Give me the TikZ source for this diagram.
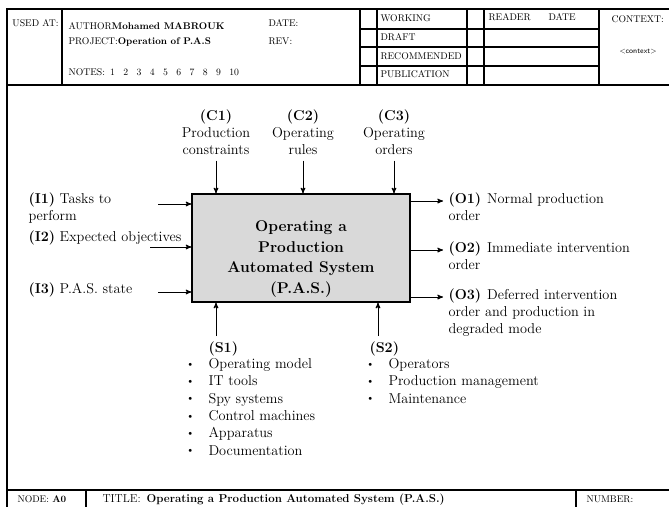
\documentclass[tikz,border=0pt]{standalone}
\usetikzlibrary{arrows}
\newcommand{\hdr}{\fontsize{9.7}{11.5}\selectfont}
\newcommand{\lbl}{\fontsize{14.3}{17.3}\selectfont}
\newcommand{\ttl}{\fontsize{15.6}{20.7}\selectfont\bfseries}
\newcommand{\bul}{\llap{\raisebox{1.3pt}{\fontsize{11}{13}\selectfont\textbullet}\hspace{14pt}}}
\newcommand{\nsp}{\hspace{8.4pt}}

\begin{document}
\begin{tikzpicture}[->,>=stealth',x=1pt,y=-1pt,line width=1pt,
  main node/.style={draw,fill=gray!30,line width=1.4pt,minimum width=218pt,minimum height=108pt,inner sep=0pt},
  hdr node/.style={anchor=west,inner sep=0pt,font=\hdr},
  lbl node/.style={anchor=north west,align=left,inner sep=0pt,font=\lbl,
    execute at begin node=\strut,execute at end node=\strut},
  ctl node/.style={lbl node,anchor=north,align=center},
  grid/.style={-,line width=1.4pt}]
\useasboundingbox (0,0) rectangle (669,506);
\clip (0,0) rectangle (669,506);

% Frame and header grid
  \draw[grid,line width=2pt] (7,9) rectangle (700,540);
  \draw[grid,line width=2pt] (7,85) -- (700,85);
  \draw[grid] (62,9) -- (62,85);
  \draw[grid] (360,9) -- (360,85);
  \draw[grid] (377,9) -- (377,85);
  \draw[grid] (467,9) -- (467,85);
  \draw[grid] (484,9) -- (484,85);
  \draw[grid] (599,9) -- (599,85);
  \draw[grid] (360,29) -- (599,29);
  \draw[grid] (360,47) -- (599,47);
  \draw[grid] (360,66) -- (599,66);

% header texts
  \node (usedat) [hdr node] at (12,23) {USED AT:};
  \node (author) [hdr node] at (68,26) {AUTHOR\textbf{Mohamed MABROUK}};
  \node (project) [hdr node] at (68,42) {PROJECT:\textbf{Operation of P.A.S}};
  \node (notes) [hdr node] at (68,72) {NOTES:\hspace{5pt}1\nsp 2\nsp 3\nsp 4\nsp 5\nsp 6\nsp 7\nsp 8\nsp 9\nsp 10};
  \node (date) [hdr node] at (268,23) {DATE:};
  \node (rev) [hdr node] at (268,41) {REV:};
  \node (working) [hdr node] at (380,18) {WORKING};
  \node (draft) [hdr node] at (380,37) {DRAFT};
  \node (recom) [hdr node] at (380,56) {RECOMMENDED};
  \node (publi) [hdr node] at (380,74) {PUBLICATION};
  \node (reader) [hdr node] at (488,17) {READER};
  \node (rdate) [hdr node] at (548,17) {DATE};
  \node (context) [hdr node] at (611,19) {CONTEXT:};
  \node (ctxval) [font=\sffamily\fontsize{7.5}{9}\selectfont,inner sep=0pt] at (638,52) {\textless context\textgreater};

% Footer
  \draw[grid,line width=2pt] (7,490) -- (700,490);
  \draw[grid] (86,490) -- (86,540);
  \draw[grid] (576,490) -- (576,540);
  \node (nodeid) [hdr node] at (17,499) {NODE: \textbf{A0}};
  \node (title) [anchor=west,inner sep=0pt,font=\fontsize{11.5}{13}\selectfont] at (102,500)
    {TITLE:\hspace{6pt}\textbf{Operating a Production Automated System (P.A.S.)}};
  \node (number) [hdr node] at (586,499) {NUMBER:};

% Main activity box
  \node[main node] (pas) at (301,248) {};
  \node (pas title) [font=\ttl,align=center,inner sep=0pt] at (301,259)
    {Operating a\\Production\\Automated System\\(P.A.S.)};

% controls
  \node (c1) [ctl node] at (216,109) {\textbf{(C1)}\\Production\\constraints};
  \node (c2) [ctl node] at (303,109) {\textbf{(C2)}\\Operating\\rules};
  \node (c3) [ctl node] at (394,109) {\textbf{(C3)}\\Operating\\orders};
  \coordinate (c1 tip) at (c1 |- pas.north);
  \coordinate (c2 tip) at (c2 |- pas.north);
  \coordinate (c3 tip) at (c3 |- pas.north);

  \path
    (c1) edge (c1 tip)
    (c2) edge (c2 tip)
    (c3) edge (c3 tip);

% inputs
  \node (i1) [lbl node] at (28,192) {\textbf{(I1)} Tasks to\\perform};
  \node (i2) [lbl node] at (28,229) {\textbf{(I2)} Expected objectives};
  \node (i3) [lbl node] at (28,281) {\textbf{(I3)} P.A.S. state};
  \coordinate (i1 tail) at (158,204);
  \coordinate (i2 tail) at (150,247);
  \coordinate (i3 tail) at (158,292);
  \coordinate (i1 tip) at (i1 tail -| pas.west);
  \coordinate (i2 tip) at (i2 tail -| pas.west);
  \coordinate (i3 tip) at (i3 tail -| pas.west);

  \path
    (i1 tail) edge (i1 tip)
    (i2 tail) edge (i2 tip)
    (i3 tail) edge (i3 tip);

% outputs
  \node (o1) [lbl node] at (448,192) {\textbf{(O1)}\hspace{6pt}Normal production\\order};
  \node (o2) [lbl node] at (448,241) {\textbf{(O2)}\hspace{6pt}Immediate intervention\\order};
  \node (o3) [lbl node] at (448,288) {\textbf{(O3)}\hspace{6pt}Deferred intervention\\order and production in\\degraded mode};
  \coordinate (o1 head) at (443,201);
  \coordinate (o2 head) at (443,250);
  \coordinate (o3 head) at (443,297);
  \coordinate (o1 tail) at (o1 head -| pas.east);
  \coordinate (o2 tail) at (o2 head -| pas.east);
  \coordinate (o3 tail) at (o3 head -| pas.east);

  \path
    (o1 tail) edge (o1 head)
    (o2 tail) edge (o2 head)
    (o3 tail) edge (o3 head);

% mechanisms
  \node (s1) [lbl node] at (208,340) {\textbf{(S1)}};
  \node (s1 list) [lbl node] at (208,358) {\bul Operating model\\\bul IT tools\\\bul Spy systems\\\bul Control machines\\\bul Apparatus\\\bul Documentation};
  \node (s2) [lbl node] at (369,340) {\textbf{(S2)}};
  \node (s2 list) [lbl node] at (388,358) {\bul Operators\\\bul Production management\\\bul Maintenance};
  \coordinate (s1 tail) at (216,336);
  \coordinate (s2 tail) at (378,336);
  \coordinate (s1 tip) at (s1 tail |- pas.south);
  \coordinate (s2 tip) at (s2 tail |- pas.south);

  \path
    (s1 tail) edge (s1 tip)
    (s2 tail) edge (s2 tip);

\end{tikzpicture}
\end{document}
